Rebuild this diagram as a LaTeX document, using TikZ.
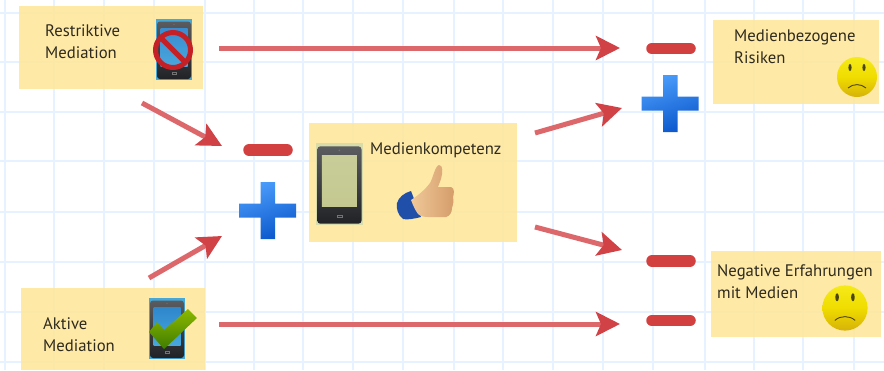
\documentclass[tikz,border=0pt]{standalone}
\usepackage{fontspec}
\setmainfont{PT Sans}
\usetikzlibrary{arrows.meta}
\definecolor{gridc}{HTML}{E6F2FF}
\definecolor{boxc}{HTML}{FEE8A0}
\definecolor{minusc}{HTML}{D24040}
\definecolor{shaftc}{HTML}{DD686B}
\definecolor{headc}{HTML}{D04246}
\definecolor{txtc}{HTML}{2E2A1E}
\definecolor{plusa}{HTML}{4A9CFA}
\definecolor{plusb}{HTML}{0C58CD}
\definecolor{smtop}{HTML}{F5EA18}
\definecolor{smmid}{HTML}{F0DC00}
\definecolor{smbot}{HTML}{D6B208}
\definecolor{smdark}{HTML}{4A4410}
\definecolor{phtop}{HTML}{5A5C60}
\definecolor{phbot}{HTML}{202226}
\definecolor{phedge}{HTML}{45A8D8}
\definecolor{scra}{HTML}{3A8CD0}
\definecolor{scrb}{HTML}{4AA6DC}
\definecolor{scrc}{HTML}{2E86CC}
\definecolor{scrd}{HTML}{48A8DC}
\definecolor{grnedge}{HTML}{D8DCA8}
\definecolor{scre}{HTML}{C8CC98}
\definecolor{scrf}{HTML}{C4C890}
\definecolor{nored}{HTML}{C42026}
\definecolor{chka}{HTML}{8DB800}
\definecolor{chkb}{HTML}{3F7C00}
\definecolor{sleeve}{HTML}{1F4FA8}
\definecolor{skina}{HTML}{F0C89A}
\definecolor{skinb}{HTML}{D49C68}
\tikzset{
  notebox/.style={rectangle,fill=boxc,fill opacity=.93,draw=none,inner sep=0pt,anchor=north west},
  lbl/.style={anchor=base west,inner sep=0pt,text=txtc,font=\fontsize{16.7}{22}\selectfont,align=left},
  minusbar/.style={line width=11.5pt,line cap=round,draw=minusc},
  conn/.style={line width=5pt,draw=shaftc,-{Stealth[length=24pt,width=24pt,inset=5pt,color=headc]}},
  plusicon/.pic={
    \shade[left color=plusa,right color=plusb,shading angle=20]
      (-7,-28.5)--(7.5,-28.5)--(7.5,-7)--(28.5,-7)--(28.5,7)--(7.5,7)--(7.5,28.5)--(-7,28.5)--(-7,7)--(-28.5,7)--(-28.5,-7)--(-7,-7)--cycle;
  }
}
\newcommand{\smileyicon}[3]{%
  \begin{scope}[shift={(#1,#2)},scale=#3]
    \shade[top color=smtop,bottom color=smbot,middle color=smmid] (0,0) circle[radius=20];
    \fill[smdark] (-7,-9.5) ellipse[x radius=1.6,y radius=3.6];
    \fill[smdark] (7,-9.5) ellipse[x radius=1.6,y radius=3.6];
    \draw[line width=.9pt,smdark] (-9,11) .. controls (-4,6.5) and (4,6.5) .. (9,11);
  \end{scope}}
\newcommand{\phoneicon}[7]{%
  \begin{scope}[shift={(#1,#2)},xscale=#3,yscale=#4]
    \fill[#5] (0,0) rectangle (36,61);
    \shade[top color=phtop,bottom color=phbot,rounded corners=3pt] (1,2.5) rectangle (35,60);
    \shade[top color=#6,bottom color=#7] (4.5,9) rectangle (31.5,47.5);
    \fill[black!55] (18,5.5) circle[radius=.7];
    \draw[black!55,line width=.5pt] (16,53.5) rectangle (20,55);
  \end{scope}}
\begin{document}
\begin{tikzpicture}[x=1pt,y=-1pt]
\useasboundingbox (0,0) rectangle (884,370);
\fill[white] (0,0) rectangle (884,370);
\foreach \gx in {5,54,104,154,205,254,303,353,403,454,503,553,603,653,705,754,803,854}
  \draw[gridc,line width=1.8pt] (\gx,0) -- (\gx,370);
\foreach \gy in {13,62,112,161,212,262,312,362}
  \draw[gridc,line width=1.8pt] (0,\gy) -- (884,\gy);

% boxes
\node[notebox,minimum width=184pt,minimum height=83pt] (restr) at (19,6) {};
\node[notebox,minimum width=184pt,minimum height=82pt] (aktiv) at (21,288) {};
\node[notebox,minimum width=208pt,minimum height=119pt] (kompetenz) at (309,123) {};
\node[notebox,minimum width=166pt,minimum height=84pt] (risiken) at (713,20) {};
\node[notebox,minimum width=170pt,minimum height=86pt] (erfahrung) at (711,251) {};

% labels (the anchor is the baseline of the last line)
\node[lbl] (lrestr) at (45,58) {Restriktive\\Mediation};
\node[lbl] (laktiv) at (43,351) {Aktive\\Mediation};
\node[lbl] (lkomp) at (370,154) {Medienkompetenz};
\node[lbl] (lris) at (734,63) {Medienbezogene\\Risiken};
\node[lbl] (lerf) at (717,298) {Negative Erfahrungen\\mit Medien};

% phone with prohibition sign
\phoneicon{156}{19}{1}{1}{phedge}{scra}{scrb}
\draw[line width=5pt,draw=nored] (173,50) circle[radius=17.5];
\draw[line width=5pt,draw=nored] (160.5,37.5) -- (185.5,62.5);

% phone with check mark
\phoneicon{149}{298}{1}{1}{phedge}{scrc}{scrd}
\shade[top color=chka,bottom color=chkb] (149,332) -- (157,322) -- (164,330) -- (188,309) -- (197,318) -- (164,349) -- cycle;

% plain phone
\phoneicon{316}{143}{1.3}{1.345}{grnedge}{scre}{scrf}

% thumb
\fill[sleeve] (397,203) .. controls (399,197) and (404,193) .. (411,191) -- (421,217) .. controls (413,219) and (407,220) .. (403,219) .. controls (398,215) and (396,209) .. (397,203) -- cycle;
\shade[left color=skina,right color=skinb]
  (411,200) .. controls (416,197) and (425,190) .. (430,183)
  .. controls (433,178) and (435,166) .. (439,165)
  .. controls (443,165) and (443,172) .. (441,179)
  -- (438,187) -- (451,187) .. controls (455,188) and (454,194) .. (453,197)
  .. controls (454,201) and (453,205) .. (452,208)
  .. controls (452,212) and (450,216) .. (446,217)
  -- (428,217) .. controls (424,217) and (420,216) .. (418,214)
  .. controls (415,210) and (413,205) .. (411,200) -- cycle;

% smileys
\smileyicon{857}{77}{1}
\smileyicon{845}{308}{1.13}

% minus signs
\coordinate (m1a) at (249,150); \coordinate (m1b) at (287,150);
\coordinate (m2a) at (652,48.5); \coordinate (m2b) at (690,48.5);
\coordinate (m3a) at (652,261); \coordinate (m3b) at (690,261);
\coordinate (m4a) at (652,320.5); \coordinate (m4b) at (690,320.5);
\draw[minusbar] (m1a) -- (m1b);
\draw[minusbar] (m2a) -- (m2b);
\draw[minusbar] (m3a) -- (m3b);
\draw[minusbar] (m4a) -- (m4b);

% plus signs
\pic at (267.5,210.5) {plusicon};
\pic at (670,103.5) {plusicon};

% connectors
\coordinate (a1s) at (219,48); \coordinate (a1e) at (620,48);
\coordinate (a2s) at (142,103); \coordinate (a2e) at (222,146);
\coordinate (a3s) at (149,278); \coordinate (a3e) at (222,236);
\coordinate (a4s) at (219,324); \coordinate (a4e) at (620,324);
\coordinate (a5s) at (535,133); \coordinate (a5e) at (622,108);
\coordinate (a6s) at (535,227); \coordinate (a6e) at (622,250);
\foreach \s/\e in {a1s/a1e,a2s/a2e,a3s/a3e,a4s/a4e,a5s/a5e,a6s/a6e}
  \draw[conn] (\s) -- (\e);
\end{tikzpicture}
\end{document}
